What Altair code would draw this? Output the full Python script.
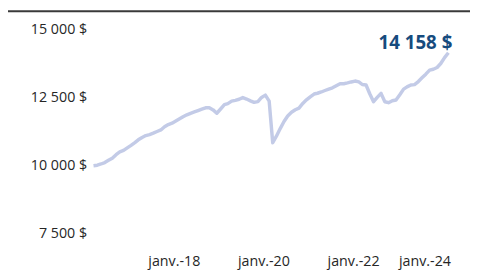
import altair as alt
import pandas as pd

# Monthly dates (month starts) from March 2016 to February 2024
months = pd.date_range("2016-03-01", periods=96, freq="MS").strftime("%Y-%m-%d").tolist()

values = [
    10000, 10018, 10062, 10116, 10196, 10275, 10406, 10507, 10562, 10656,
    10750, 10851, 10953, 11040, 11109, 11145, 11196, 11257, 11315, 11431,
    11515, 11565,
    11645, 11725, 11801, 11873, 11928, 11978, 12029, 12080, 12130, 12134, 12054, 11931,
    12087, 12246, 12286, 12377, 12406, 12446, 12507, 12453, 12388, 12330, 12359, 12514,
    12598, 12377, 10844, 11094, 11366, 11627, 11830, 11967, 12058, 12120, 12293, 12424,
    12536, 12638, 12667, 12714, 12768, 12819, 12866, 12942, 13018, 13018, 13047, 13083,
    13116, 13087, 12989, 12971, 12649, 12355, 12514, 12663, 12355, 12319, 12391, 12420,
    12612, 12819, 12902, 12971, 12986, 13098, 13235, 13370, 13518, 13551, 13616, 13761,
    13978, 14158,
]

y_ticks = [7500, 10000, 12500, 15000]
x_tick_years = [2018, 2020, 2022, 2024]

df = pd.DataFrame({"date": months, "value": values})
last_label = f"{values[-1]:,}".replace(",", " ") + " $"
df_last = pd.DataFrame({"date": [months[-1]], "value": [values[-1]], "label": [last_label]})

FONT = "Open Sans"

x_enc = alt.X(
    "date:T",
    scale=alt.Scale(type="utc"),
    axis=alt.Axis(
        values=[alt.DateTime(year=y, month=1, date=1, utc=True) for y in x_tick_years],
        labelExpr="'janv.-' + utcFormat(datum.value, '%y')",
        title=None, domain=False, ticks=False, tickSize=0, grid=False,
        labelFont=FONT, labelFontSize=14.5, labelColor="#262626",
        labelPadding=8, labelOffset=-2, labelFlush=6, labelFlushOffset=8,
    ),
)
y_enc = alt.Y(
    "value:Q",
    scale=alt.Scale(domain=[7000, 15000], nice=False, zero=False),
    axis=alt.Axis(
        values=y_ticks,
        labelExpr="replace(format(datum.value, ','), ',', ' ') + ' $'",
        title=None, domain=False, ticks=False, tickSize=0, grid=False,
        labelFont=FONT, labelFontSize=14.5, labelColor="#262626",
        labelPadding=7,
    ),
)

line = alt.Chart(df).mark_line(
    color="#c3cbe7", strokeWidth=3.5, strokeJoin="round"
).encode(x=x_enc, y=y_enc)

label = alt.Chart(df_last).mark_text(
    align="right", baseline="middle", font=FONT, fontSize=19,
    fontWeight="bold", color="#164b7e", dx=4, dy=-10,
).encode(x="date:T", y="value:Q", text="label:N")

top_rule = alt.Chart(pd.DataFrame({"a": [0]})).mark_rule(
    color="#3a3a3a", strokeWidth=2
).encode(x=alt.value(-88), x2=alt.value(385), y=alt.value(-19))

chart = alt.layer(line, label, top_rule).properties(
    width=361, height=221,
    padding={"left": 87, "top": 20, "right": 22, "bottom": 22},
    autosize=alt.AutoSizeParams(type="none"),
).configure_view(stroke=None)

chart.save("out.html", embed_options={"renderer": "svg", "actions": False})
